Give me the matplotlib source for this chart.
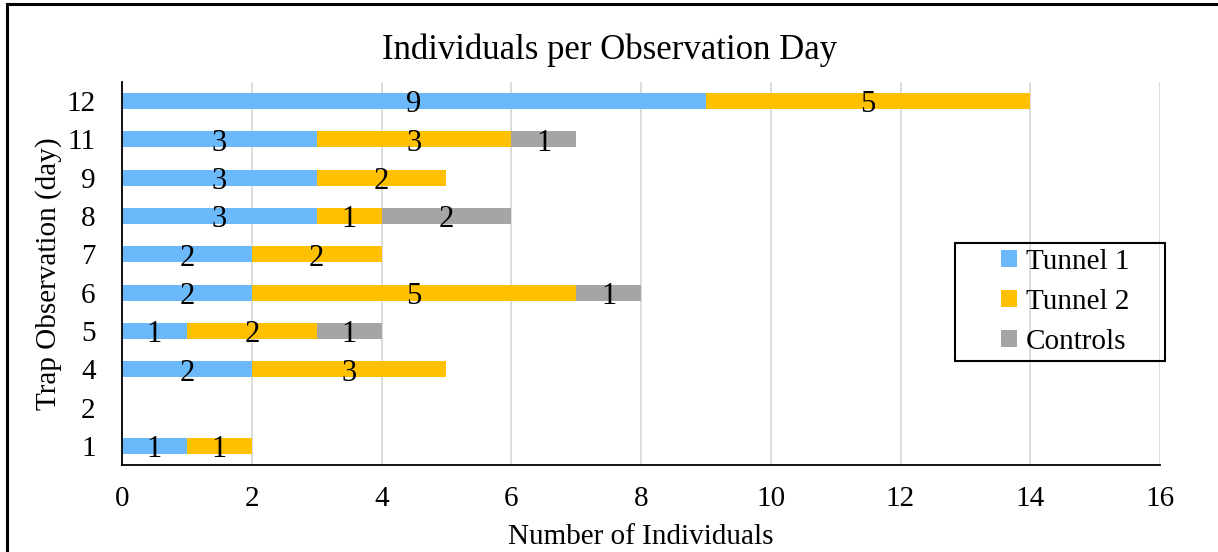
import matplotlib.pyplot as plt
from matplotlib.patches import Rectangle

days = ['1', '2', '4', '5', '6', '7', '8', '9', '11', '12']
tunnel1 = [1, 0, 2, 1, 2, 2, 3, 3, 3, 9]
tunnel2 = [1, 0, 3, 2, 5, 2, 1, 2, 3, 5]
controls = [0, 0, 0, 1, 1, 0, 2, 0, 1, 0]

plt.rcParams['font.family'] = ['Liberation Serif', 'DejaVu Serif']

fig = plt.figure(figsize=(12.18, 5.52), dpi=100)
ax = fig.add_axes([122/1218, 1-465/552, (1160-122)/1218, 383/552])

# border around the whole chart (right/bottom edges cut off in the original)
fig.patches.append(Rectangle((7/1218, -0.1), 1.2, 1.1 - 4/552, transform=fig.transFigure,
                             fill=False, edgecolor='black', linewidth=2.2))

y = range(len(days))
h = 0.42
series = [(tunnel1, '#6bb9fa', 'Tunnel 1'),
          (tunnel2, '#ffc000', 'Tunnel 2'),
          (controls, '#a5a5a5', 'Controls')]
left = [0] * len(days)
for vals, col, lab in series:
    bars = ax.barh(y, vals, height=h, left=left, color=col, label=lab, zorder=2)
    for b, v in zip(bars, vals):
        if v > 0:
            ax.text(b.get_x() + b.get_width() / 2, b.get_y() + b.get_height() / 2 - 0.1,
                    str(v), ha='center', va='center', fontsize=22, zorder=3)
    left = [l + v for l, v in zip(left, vals)]

ax.set_xlim(0, 16)
ax.set_ylim(-0.5, len(days) - 0.5)
ax.set_xticks(range(0, 17, 2))
ax.set_yticks(list(y))
ax.set_yticklabels(days)
ax.tick_params(axis='both', length=0, labelsize=21)
ax.tick_params(axis='x', pad=15)
ax.tick_params(axis='y', pad=19)
ax.grid(axis='x', color='#d9d9d9', linewidth=1.3, zorder=0)
ax.set_axisbelow(True)
for s in ['top', 'right']:
    ax.spines[s].set_visible(False)
ax.spines['left'].set_linewidth(1.3)
ax.spines['bottom'].set_linewidth(1.3)

ax.set_xlabel('Number of Individuals', fontsize=21, labelpad=9)
ax.set_ylabel('Trap Observation (day)', fontsize=21, labelpad=3)
fig.text(610/1218, 1-50/552, 'Individuals per Observation Day', ha='center', va='center', fontsize=25)

# legend frame drawn separately so it can have wide side padding
fig.patches.append(Rectangle((955/1218, 1-361/552), 210/1218, 118/552, transform=fig.transFigure,
                             fill=False, edgecolor='black', linewidth=1.5, zorder=5))
leg = fig.legend(loc='center left', bbox_to_anchor=(1001/1218, 1-302/552), fontsize=21, frameon=False,
                 handlelength=0.55, handleheight=0.55, handletextpad=0.3, borderpad=0,
                 borderaxespad=0, labelspacing=0.48)

fig.savefig('out.png', dpi=100)
